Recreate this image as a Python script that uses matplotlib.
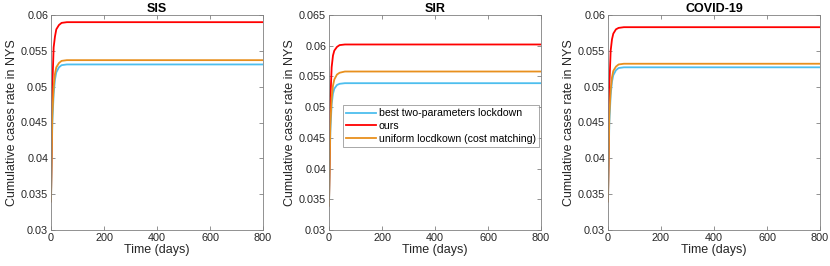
import numpy as np
import matplotlib
matplotlib.use('Agg')
from matplotlib import pyplot as plt

plt.rcParams['font.family'] = ['Liberation Sans', 'DejaVu Sans']

#------------------------------------------------------------
# Values
t = [0, 5, 10, 15, 20, 30, 40, 60, 80, 100, 800]

titles = ['SIS', 'SIR', 'COVID-19']
ylims = [(0.03, 0.06), (0.03, 0.065), (0.03, 0.06)]
yticks = [[0.03, 0.035, 0.04, 0.045, 0.05, 0.055, 0.06],
          [0.03, 0.035, 0.04, 0.045, 0.05, 0.055, 0.06, 0.065],
          [0.03, 0.035, 0.04, 0.045, 0.05, 0.055, 0.06]]

two_param = [
    [0.034, 0.045, 0.049, 0.0510, 0.0520, 0.0527, 0.0530, 0.0531, 0.0531, 0.0531, 0.0531],
    [0.034, 0.046, 0.0505, 0.0522, 0.0530, 0.0536, 0.0538, 0.0539, 0.0539, 0.0539, 0.0539],
    [0.034, 0.045, 0.0488, 0.0507, 0.0516, 0.0523, 0.0526, 0.0527, 0.0527, 0.0527, 0.0527],
]
ours = [
    [0.034, 0.050, 0.0555, 0.0570, 0.0580, 0.0586, 0.0589, 0.0590, 0.0590, 0.0590, 0.0590],
    [0.034, 0.051, 0.0565, 0.0584, 0.0592, 0.0598, 0.0601, 0.0602, 0.0602, 0.0602, 0.0602],
    [0.034, 0.050, 0.0550, 0.0566, 0.0574, 0.0580, 0.0582, 0.0583, 0.0583, 0.0583, 0.0583],
]
uniform = [
    [0.034, 0.046, 0.050, 0.0518, 0.0527, 0.0533, 0.0536, 0.0537, 0.0537, 0.0537, 0.0537],
    [0.034, 0.047, 0.0515, 0.0535, 0.0545, 0.0553, 0.0556, 0.0558, 0.0558, 0.0558, 0.0558],
    [0.034, 0.046, 0.0495, 0.0513, 0.0522, 0.0528, 0.0531, 0.0532, 0.0532, 0.0532, 0.0532],
]

labels = ['best two-parameters lockdown', 'ours',
          'uniform locdkown (cost matching)']
colors = ['#4DBEEE', '#FF0000', '#E8901E']

#------------------------------------------------------------
# Plot the results
fig = plt.figure(figsize=(8.3, 2.66), dpi=100)
lefts = [51, 329, 608]

for i in range(3):
    ax = fig.add_axes([lefts[i] / 830., 36 / 266., 212 / 830., 215 / 266.])
    for y, c, lab in zip([two_param[i], ours[i], uniform[i]], colors, labels):
        ax.plot(t, y, color=c, lw=1.3, label=lab)
    ax.set_xlim(0, 800)
    ax.set_ylim(*ylims[i])
    ax.set_xticks([0, 200, 400, 600, 800])
    ax.set_yticks(yticks[i])
    ax.set_yticklabels(['%g' % v for v in yticks[i]])
    ax.tick_params(direction='in', length=3, width=0.6, colors='#808080',
                   labelcolor='#262626', labelsize=7.8, top=True, right=True, pad=2)
    for s in ax.spines.values():
        s.set_color('#808080')
        s.set_linewidth(0.6)
    ax.set_title(titles[i], fontsize=9, fontweight='bold', pad=2)
    ax.set_xlabel('Time (days)', fontsize=9, color='#262626', labelpad=1)
    ax.set_ylabel('Cumulative cases rate in NYS', fontsize=9, color='#262626',
                  labelpad=2)
    if i == 1:
        leg = ax.legend(loc='upper left', bbox_to_anchor=(0.065, 0.58),
                        fontsize=7.6, frameon=True, fancybox=False,
                        borderpad=0.3, handlelength=2.8, handletextpad=0.3,
                        labelspacing=0.25, borderaxespad=0)
        leg.get_frame().set_edgecolor('#808080')
        leg.get_frame().set_linewidth(0.6)

fig.savefig('out.png', dpi=100)
